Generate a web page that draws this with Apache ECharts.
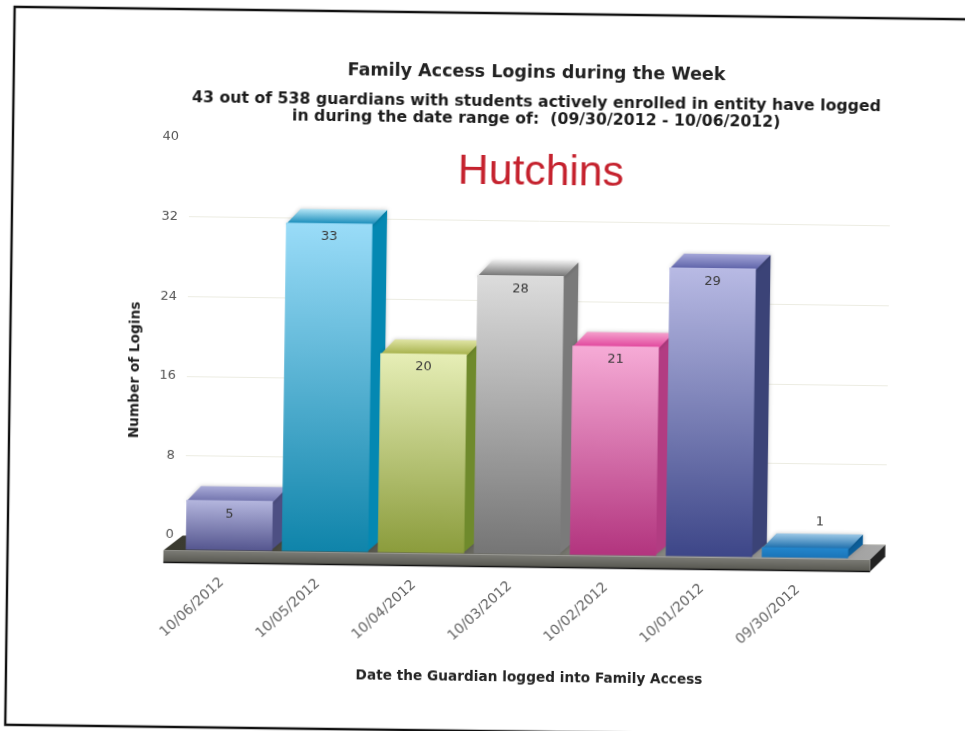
<!DOCTYPE html>
<html><head><meta charset="utf-8">
<style>html,body{margin:0;padding:0;background:#fff;overflow:hidden;width:965px;height:731px}
#c{position:absolute;left:0;top:0;width:1010px;height:760px;transform-origin:482.5px 365.5px;transform:rotate(0.75deg)}</style>
<script src="https://cdn.jsdelivr.net/npm/echarts@6/dist/echarts.min.js"></script>
</head><body><div id="c"></div>
<script>
const categories=['10/06/2012','10/05/2012','10/04/2012','10/03/2012','10/02/2012','10/01/2012','09/30/2012'];
const logins=[5,33,20,28,21,29,1];
const yTicks=[0,8,16,24,32,40];
const frontTop=['#b4b6de','#9adcf8','#e6eeb6','#dcdcdc','#f6abd6','#b8bae4','#2386cc'];
const frontBottom=['#55568f','#0f84aa','#8b9c3c','#757575','#b2347e','#3d4688','#1a74b8'];
const sideColor=['#4d4f83','#0488b2','#6f8a2c','#7a7a7a','#b23c82','#3b4377','#0d5f9b'];
const topBack=['#a9abd8','#b6e6f6','#dfe4a4','#e6e6e6','#f4a0cc','#a4a6d8','#9cc8e6'];
const topFront=['#6f71ab','#0d86b6','#a3ae46','#6c6c6c','#e0409a','#5a5fa6','#1468a8'];
const depthX=14.5, depthY=14;
const G=echarts.graphic;
function grad(a,b){return new G.LinearGradient(0,0,0,1,[{offset:0,color:a},{offset:1,color:b}]);}
function renderBar(params,api){
  const i=api.value(0), v=api.value(1);
  const top=api.coord([i,v]), base=api.coord([i,0]);
  const w=api.size([1,0])[0]*0.9;
  const l=top[0]-w/2, r=top[0]+w/2, t=top[1], b=base[1];
  const soft={shadowBlur:4,shadowColor:'rgba(0,0,0,0.22)'};
  const kids=[
    {type:'polygon',shape:{points:[[r-1.5,t],[r+depthX,t-depthY],[r+depthX,b-depthY],[r-1.5,b]]},style:Object.assign({fill:sideColor[i]},soft)},
    {type:'polygon',shape:{points:[[l,t+1.5],[l+depthX,t-depthY],[r+depthX,t-depthY],[r,t+1.5]]},style:Object.assign({fill:grad(topBack[i],topFront[i])},soft)},
    {type:'rect',shape:{x:l,y:t,width:r-l,height:b-t},style:{fill:grad(frontTop[i],frontBottom[i])}}
  ];
  const above=(b-t)<20;
  kids.push({type:'text',style:{text:String(v),x:top[0]+(above?depthX:0),y:above?t-depthY-12:t+13.5,
    align:'center',verticalAlign:'middle',fill:'#3a3a3a',font:'13px "DejaVu Sans"'}});
  return {type:'group',children:kids};
}
function renderFloor(params,api){
  const c=params.coordSys, y=api.coord([0,0])[1];
  const l=c.x-17.5, r=c.x+c.width+17.3, back=y-14, f=y+1, bot=y+13;
  return {type:'group',children:[
    {type:'polygon',shape:{points:[[l,f],[l+19,back],[r+15,back],[r,f]]},
      style:{fill:new G.LinearGradient(0,0,1,0,[{offset:0,color:'#38382e'},{offset:0.45,color:'#6a6a60'},{offset:1,color:'#a8a8a8'}])}},
    {type:'polygon',shape:{points:[[r,f],[r+15,back],[r+15,back+12],[r,bot]]},style:{fill:'#222'}},
    {type:'rect',shape:{x:l,y:f,width:r-l,height:bot-f},style:{fill:grad('#7c7c76','#56564f')}},
    {type:'line',shape:{x1:l,y1:bot,x2:r,y2:bot},style:{stroke:'#111',lineWidth:1.5}}
  ]};
}
const titleFont='"DejaVu Sans"';
const chart=echarts.init(document.getElementById('c'),null,{renderer:'canvas'});
chart.setOption({
  animation:false,backgroundColor:'#fff',
  title:[
    {text:'Family Access Logins during the Week',left:527.7,top:58,textAlign:'center',textStyle:{fontFamily:titleFont,fontWeight:'bold',fontSize:17.5,color:'#222'}},
    {text:'43 out of 538 guardians with students actively enrolled in entity have logged\nin during the date range of:  (09/30/2012 - 10/06/2012)',left:528,top:88,textAlign:'center',
      textStyle:{fontFamily:titleFont,fontWeight:'bold',fontSize:15.75,lineHeight:17,color:'#1c1c1c'}},
    {text:'Hutchins',left:533.4,top:146,textAlign:'center',textStyle:{fontFamily:'"Liberation Sans"',fontWeight:'normal',fontSize:42.7,color:'#c5222e'}},
    {text:'Date the Guardian logged into Family Access',left:528,top:665,textAlign:'center',textStyle:{fontFamily:titleFont,fontWeight:'bold',fontSize:13.7,color:'#222'}}
  ],
  graphic:[
    {type:'rect',z:-1,shape:{x:10,y:13,width:1100,height:718},style:{fill:'none',stroke:'#111',lineWidth:2.4}},
    {type:'text',x:135,y:374.5,rotation:Math.PI/2,style:{text:'Number of Logins',align:'center',verticalAlign:'middle',fill:'#222',font:'bold 13.7px "DejaVu Sans"'}}
  ],
  grid:[
    {left:187,top:141,width:701,height:398},
    {left:183.4,top:155.5,width:672,height:398}
  ],
  xAxis:[
    {gridIndex:0,type:'category',data:categories,show:false},
    {gridIndex:1,type:'category',data:categories,axisLine:{show:false},axisTick:{show:false},
      axisLabel:{interval:0,rotate:43,margin:24,padding:[0,9,0,0],color:'#666',fontFamily:titleFont,fontSize:14}}
  ],
  yAxis:[
    {gridIndex:0,type:'value',min:yTicks[0],max:yTicks[yTicks.length-1],interval:yTicks[1],
      axisLine:{show:false},axisTick:{show:false},
      axisLabel:{margin:11,color:'#555',fontFamily:titleFont,fontSize:13},
      splitLine:{showMaxLine:false,lineStyle:{color:'#ecece2',width:1}}},
    {gridIndex:1,type:'value',min:yTicks[0],max:yTicks[yTicks.length-1],interval:yTicks[1],show:false,splitLine:{show:false}}
  ],
  series:[
    {type:'custom',xAxisIndex:1,yAxisIndex:1,data:[0],renderItem:renderFloor,clip:false,silent:true,z:1},
    {type:'custom',xAxisIndex:1,yAxisIndex:1,data:logins.map((v,i)=>[i,v]),renderItem:renderBar,clip:false,z:2,encode:{x:0,y:1}}
  ]
});
</script></body></html>
